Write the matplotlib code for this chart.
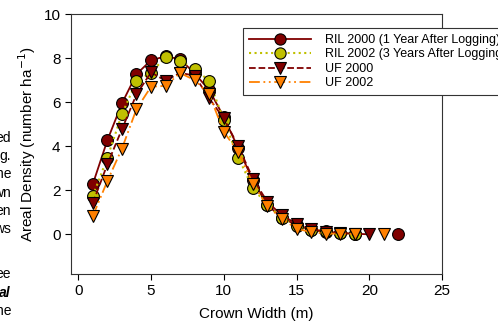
import numpy as np
import matplotlib
matplotlib.use("Agg")
import matplotlib.pyplot as plt

plt.rcParams['font.family'] = ['Liberation Sans', 'DejaVu Sans']

nan = np.nan
x = list(range(1, 23))
ril2000 = [2.28, 4.27, 5.94, 7.27, 7.90, 8.08, 7.95, 7.30, 6.55, 5.33, 3.90, 2.45, 1.32, 0.76, 0.41, 0.20, 0.10, 0.05, 0.03, nan, nan, 0.0]
ril2002 = [1.74, 3.48, 5.45, 6.94, 7.33, 8.06, 7.88, 7.50, 6.97, 5.18, 3.48, 2.10, 1.32, 0.76, 0.38, 0.21, 0.15, 0.06, 0.02, nan, nan, nan]
uf2000 = [1.42, 3.18, 4.77, 6.35, 7.35, 6.97, 7.33, 7.20, 6.17, 5.26, 4.00, 2.53, 1.47, 0.86, 0.48, 0.24, 0.12, 0.06, 0.03, 0.0, nan, nan]
uf2002 = [0.83, 2.42, 3.89, 5.68, 6.70, 6.74, 7.32, 7.00, 6.36, 4.65, 3.74, 2.30, 1.27, 0.71, 0.26, 0.10, 0.03, 0.03, 0.02, nan, 0.0, nan]

labels = ["RIL 2000 (1 Year After Logging)", "RIL 2002 (3 Years After Logging)",
          "UF 2000", "UF 2002"]

W, H = 498, 333
fig = plt.figure(figsize=(W / 100, H / 100), dpi=100)
ax = fig.add_axes([71 / W, 1 - 274 / H, (442 - 71) / W, (274 - 14) / H])

maroon = '#800000'
olive = '#C0C000'
orange = '#FF8000'
ms = 8.5
ax.plot(x, ril2000, '-', color=maroon, lw=1.3, marker='o', ms=ms, mfc=maroon, mec='black', mew=0.8, label=labels[0])
ax.plot(x, ril2002, ':', color=olive, lw=1.5, marker='o', ms=ms, mfc=olive, mec='black', mew=0.8, label=labels[1])
ax.plot(x, uf2000, '--', color=maroon, lw=1.3, marker='v', ms=ms, mfc=maroon, mec='black', mew=0.8, label=labels[2])
ax.plot(x, uf2002, color=orange, lw=1.3, ls=(0, (6, 2, 1, 2, 1, 2)), marker='v', ms=ms, mfc=orange, mec='black', mew=0.8, label=labels[3])

ax.set_xlim(-0.5, 25)
ax.set_ylim(-1.8, 10)
ax.set_xticks([0, 5, 10, 15, 20, 25])
ax.set_yticks([0, 2, 4, 6, 8, 10])
ax.tick_params(direction='out', length=4, width=0.8, labelsize=11, colors='black')
for s in ax.spines.values():
    s.set_linewidth(0.8)
    s.set_color('#333333')

ax.set_xlabel("Crown Width (m)", fontsize=11, labelpad=6)
ax.set_ylabel("Areal Density (number ha$^{-1}$)", fontsize=11, labelpad=4)

leg = fig.legend(loc='upper left', bbox_to_anchor=(237 / W, 1 - 22 / H), fontsize=9,
                 handlelength=5.0, frameon=True, fancybox=False, framealpha=1,
                 edgecolor='#333333', borderpad=0.45, labelspacing=0.2, handletextpad=1.1,
                 markerscale=0.95)
leg.get_frame().set_linewidth(0.8)

# clipped document text at left
side = [("ed", 138, False), ("g.", 156, False), ("he", 174, False), ("wn", 193, False),
        ("en", 211, False), ("ws", 229, False), ("ee", 274, False), ("al", 293, True), ("he", 311, False)]
for t, yy, b in side:
    fig.text(11 / W, 1 - yy / H, t, ha='right', va='center', fontsize=10,
             fontweight='bold' if b else 'normal', fontstyle='italic' if b else 'normal')

fig.savefig("out.png", dpi=100)
